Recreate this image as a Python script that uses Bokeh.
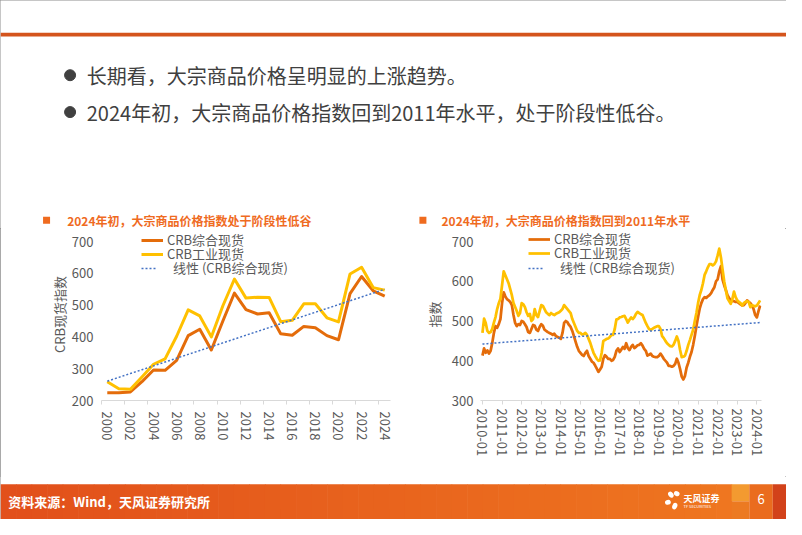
import numpy as np
from bokeh.plotting import figure
from bokeh.layouts import column, row
from bokeh.models import Range1d, FixedTicker, Legend, LegendItem
from bokeh.core.properties import value
from bokeh.embed import file_html
from bokeh.resources import INLINE

FONT = "Noto Sans CJK SC"
ORANGE = "#E46C0A"
YELLOW = "#FFC000"
BLUE = "#4472C4"
TITLE_C = "#EF6B1F"
GREY_T = "#595959"

# ---------------- data ----------------
bullets = ["长期看，大宗商品价格呈明显的上涨趋势。",
           "2024年初，大宗商品价格指数回到2011年水平，处于阶段性低谷。"]
chart_titles = ["2024年初，大宗商品价格指数处于阶段性低谷",
                "2024年初，大宗商品价格指数回到2011年水平"]
footer_text = "资料来源：Wind，天风证券研究所"
series_names = ["CRB综合现货", "CRB工业现货", "线性 (CRB综合现货)"]
y_labels = ["CRB现货指数", "指数"]

years = [2000, 2001, 2002, 2003, 2004, 2005, 2006, 2007, 2008, 2009, 2010, 2011, 2012,
         2013, 2014, 2015, 2016, 2017, 2018, 2019, 2020, 2021, 2022, 2023, 2024]
annual_composite = [224, 224, 227, 259, 296, 295, 326, 404, 424, 359, 450, 538, 486,
                    472, 476, 410, 405, 433, 429, 404, 391, 536, 590, 545, 528]
annual_industrial = [259, 237, 235, 274, 314, 331, 402, 485, 466, 400, 498, 582, 522,
                     525, 524, 448, 452, 504, 504, 460, 447, 598, 619, 555, 547]

monthly_first_year = 2010
monthly_composite = [
    413, 431, 420, 426, 418, 425, 445, 470, 487, 483, 492, 505,   # 2010
    545, 572, 562, 555, 552, 548, 540, 515, 495, 487, 492, 490,   # 2011
    500, 498, 492, 485, 472, 470, 480, 490, 488, 478, 475, 485,   # 2012
    492, 488, 478, 475, 472, 470, 468, 465, 468, 462, 460, 458,   # 2013
    455, 470, 495, 500, 497, 490, 485, 475, 462, 448, 435, 425,   # 2014
    420, 415, 412, 420, 425, 412, 405, 398, 395, 388, 380, 372,   # 2015
    378, 385, 405, 414, 410, 405, 405, 400, 402, 410, 425, 431,   # 2016
    422, 428, 435, 430, 444, 432, 427, 435, 440, 432, 435, 439,   # 2017
    440, 444, 438, 430, 425, 413, 415, 418, 412, 410, 409, 409,   # 2018
    412, 418, 412, 405, 400, 395, 387, 387, 385, 387, 392, 405,   # 2019
    395, 379, 360, 353, 362, 383, 395, 410, 422, 440, 462, 487,   # 2020
    510, 531, 545, 555, 560, 558, 562, 565, 570, 578, 585, 600,   # 2021
    605, 625, 638, 604, 590, 578, 565, 558, 552, 550, 550, 548,   # 2022
    548, 545, 542, 539, 540, 545, 552, 548, 545, 539, 530, 515,   # 2023
    509, 525, 539,                                                # 2024
]
monthly_industrial = [
    470, 506, 495, 475, 470, 472, 480, 496, 510, 530, 545, 556,   # 2010
    590, 625, 615, 605, 595, 580, 565, 545, 535, 525, 513, 520,   # 2011
    545, 542, 535, 522, 513, 518, 500, 505, 530, 515, 510, 525,   # 2012
    540, 538, 530, 522, 518, 515, 520, 517, 515, 518, 520, 522,   # 2013
    526, 530, 540, 535, 530, 525, 520, 505, 495, 485, 475, 470,   # 2014
    470, 466, 467, 470, 465, 455, 445, 432, 420, 412, 405, 400,   # 2015
    401, 420, 450, 452, 455, 456, 460, 465, 465, 480, 504, 505,   # 2016
    509, 510, 512, 513, 505, 496, 503, 509, 505, 510, 518, 523,   # 2017
    520, 517, 515, 505, 495, 487, 480, 478, 480, 483, 485, 487,   # 2018
    487, 480, 462, 457, 450, 444, 440, 437, 436, 440, 450, 461,   # 2019
    450, 427, 409, 410, 413, 425, 440, 452, 465, 478, 500, 520,   # 2020
    545, 565, 578, 595, 616, 625, 635, 643, 643, 640, 643, 650,   # 2021
    665, 682, 660, 630, 600, 578, 557, 550, 543, 555, 574, 560,   # 2022
    552, 548, 545, 539, 545, 548, 550, 548, 535, 540, 538, 537,   # 2023
    539, 545, 552,                                                # 2024
]
month_tick_labels = ["2010-01", "2011-01", "2012-01", "2013-01", "2014-01", "2015-01",
                     "2016-01", "2017-01", "2018-01", "2019-01", "2020-01", "2021-01",
                     "2022-01", "2023-01", "2024-01"]
y_ticks_left = [200, 300, 400, 500, 600, 700]
y_ticks_right = [300, 400, 500, 600, 700]


def deco_fig(h, y_top, y_bottom):
    f = figure(width=786, height=h, x_range=Range1d(0, 802), y_range=Range1d(y_bottom, y_top),
               output_backend="svg", toolbar_location=None, min_border=0,
               x_axis_location=None, y_axis_location=None, outline_line_color=None)
    f.xgrid.visible = False
    f.ygrid.visible = False
    return f


# ---------------- top part (header + bullets + chart titles) ----------------
top = deco_fig(228, 0, 235)
top.quad(left=0, right=802, top=33.2, bottom=37.2, fill_color="#D4541C", line_color=None)
top.scatter(x=[71, 71], y=[77, 115], size=11, color="#404040")
top.text(x=[88, 88], y=[77, 115], text=bullets, text_font=value(FONT), text_font_size="20px",
         text_color="#404040", text_baseline="middle")
top.scatter(x=[47, 431], y=[226.5, 226.5], marker="square", size=7, color=TITLE_C, line_color=None)
top.text(x=[68, 450], y=[226.5, 226.5], text=chart_titles, text_font=value(FONT),
         text_font_size="12px", text_font_style="bold", text_color=TITLE_C,
         text_baseline="middle")


def style_axes(p):
    p.xgrid.visible = False
    p.ygrid.visible = False
    for ax in (p.xaxis[0], p.yaxis[0]):
        ax.major_label_text_font = FONT
        ax.major_label_text_font_size = "13px"
        ax.major_label_text_color = GREY_T
        ax.axis_label_text_font = FONT
        ax.axis_label_text_font_size = "13px"
        ax.axis_label_text_color = GREY_T
        ax.axis_label_text_font_style = "normal"
    ya = p.yaxis[0]
    ya.axis_line_color = None
    ya.major_tick_line_color = None
    ya.minor_tick_line_color = None
    ya.major_tick_out = 0
    ya.major_tick_in = 0
    xa = p.xaxis[0]
    xa.axis_line_color = "#D9D9D9"
    xa.major_label_orientation = "vertical"


def make_legend(p, renderers, x0, bottoms):
    # one legend per entry so that rows can be packed as tightly as in the reference
    for i, (n, r, yb) in enumerate(zip(series_names, renderers, bottoms)):
        dotted = i == 2
        lg = Legend(items=[LegendItem(label=n, renderers=[r])], location=(x0, yb),
                    glyph_width=16 if dotted else 22, glyph_height=14, label_height=14,
                    spacing=0, padding=0, margin=0, label_standoff=16 if dotted else 4,
                    border_line_color=None, background_fill_alpha=0,
                    label_text_font=FONT, label_text_font_size="13px",
                    label_text_color=GREY_T)
        p.add_layout(lg)


# both chart frames span the same canvas rows; the value ranges are padded at the top
# so that the 700 tick lands where the reference puts it (room for the legends)
FRAME_TOP_PAD = 13.0      # px between frame top and the 700 tick
FRAME_BOTTOM_BORDER = 76
VALUE_SPAN_PX = 248 - FRAME_BOTTOM_BORDER - FRAME_TOP_PAD

# ---------------- left chart (annual) ----------------
xl = np.arange(len(years))
kl = np.polyfit(xl, annual_composite, 1)
trend_l = np.polyval(kl, xl)
upl = (700 - 200) / VALUE_SPAN_PX
pl = figure(width=404, height=248, x_range=Range1d(-0.5, len(years) - 0.5),
            y_range=Range1d(200, 700 + FRAME_TOP_PAD * upl), output_backend="svg",
            toolbar_location=None,
            min_border_left=101, min_border_right=14, min_border_top=0,
            min_border_bottom=FRAME_BOTTOM_BORDER, outline_line_color=None)
style_axes(pl)
pl.yaxis.ticker = FixedTicker(ticks=y_ticks_left)
pl.yaxis.major_label_standoff = 8
pl.yaxis.axis_label = y_labels[0]
pl.yaxis.axis_label_standoff = 0
even = list(range(0, len(years), 2))
pl.xaxis.ticker = FixedTicker(ticks=even, minor_ticks=[i - 0.5 for i in range(0, len(years) + 1, 2)])
pl.xaxis.major_label_overrides = {i: str(years[i]) for i in even}
pl.xaxis.major_tick_line_color = None
pl.xaxis.major_tick_out = 0
pl.xaxis.major_tick_in = 0
pl.xaxis.minor_tick_line_color = "#D9D9D9"
pl.xaxis.minor_tick_out = 4
pl.xaxis.minor_tick_in = 0
pl.xaxis.major_label_standoff = 7

rl1 = pl.line(xl, annual_composite, line_color=ORANGE, line_width=3, line_join="round")
rl2 = pl.line(xl, annual_industrial, line_color=YELLOW, line_width=3, line_join="round")
rl3 = pl.line(xl, trend_l, line_color=BLUE, line_width=1.5, line_dash="2 2")
make_legend(pl, [rl1, rl2, rl3], 40, [151, 137, 123])

# ---------------- right chart (monthly) ----------------
xr = monthly_first_year + np.arange(len(monthly_composite)) / 12.0
kr = np.polyfit(xr, monthly_composite, 1)
trend_r = np.polyval(kr, xr)
tick_years = [int(s[:4]) for s in month_tick_labels]
upr = (700 - 300) / VALUE_SPAN_PX
pr = figure(width=382, height=248, x_range=Range1d(monthly_first_year - 0.1, xr[-1] + 0.07),
            y_range=Range1d(300, 700 + FRAME_TOP_PAD * upr), output_backend="svg",
            toolbar_location=None,
            min_border_left=76, min_border_right=25, min_border_top=0,
            min_border_bottom=FRAME_BOTTOM_BORDER, outline_line_color=None)
style_axes(pr)
pr.yaxis.ticker = FixedTicker(ticks=y_ticks_right)
pr.yaxis.major_label_standoff = 7
pr.yaxis.axis_label = y_labels[1]
pr.yaxis.axis_label_standoff = 5
pr.xaxis.ticker = FixedTicker(ticks=tick_years)
pr.xaxis.major_label_overrides = {y: s for y, s in zip(tick_years, month_tick_labels)}
pr.xaxis.major_tick_line_color = "#D9D9D9"
pr.xaxis.major_tick_out = 4
pr.xaxis.major_tick_in = 0
pr.xaxis.minor_tick_line_color = None
pr.xaxis.major_label_standoff = 4

rr1 = pr.line(xr, monthly_composite, line_color=ORANGE, line_width=2.75, line_join="round")
rr2 = pr.line(xr, monthly_industrial, line_color=YELLOW, line_width=2.75, line_join="round")
rr3 = pr.line(xr, trend_r, line_color=BLUE, line_width=1.5, line_dash="2 2")
make_legend(pr, [rr1, rr2, rr3], 48, [152, 138, 123])

# ---------------- footer ----------------
bot = deco_fig(43, 490, 535)
edges = np.linspace(0, 746, 48)
c0 = np.array([226, 80, 27])
c1 = np.array([239, 118, 32])
cols = []
for i in range(len(edges) - 1):
    t = i / (len(edges) - 2)
    c = (c0 + (c1 - c0) * t).astype(int)
    cols.append("#%02x%02x%02x" % tuple(c))
bot.quad(left=edges[:-1], right=edges[1:] + 0.6, top=498, bottom=535, fill_color=cols, line_color=None)
bot.quad(left=[746, 746, 764, 788], right=[764, 764, 788, 802], top=[498, 516, 498, 498],
         bottom=[516, 535, 535, 535],
         fill_color=["#F39A30", "#EC7A22", "#EA6C1E", "#D2421A"], line_color=None)
bot.text(x=[8], y=[516], text=[footer_text], text_font=value(FONT), text_font_size="13px",
         text_font_style="bold", text_color="white", text_baseline="middle")
# logo
bot.ellipse(x=[684, 690, 681, 688], y=[509, 508, 517, 521], width=[5, 6, 6, 5], height=[7, 5, 5, 7],
            angle=[0.6, -0.5, 0.3, -0.4], fill_color="white", line_color=None)
bot.text(x=[697], y=[513], text=["天风证券"], text_font=value(FONT), text_font_size="9px",
         text_font_style="bold", text_color="white", text_baseline="middle")
bot.text(x=[697], y=[521], text=["TF SECURITIES"], text_font=value(FONT), text_font_size="4px",
         text_color="white", text_baseline="middle")
bot.text(x=[776], y=[514], text=["6"], text_font=value(FONT), text_font_size="13px",
         text_color="white", text_baseline="middle", text_align="center")

layout = column(top, row(pl, pr), bot,
                styles={"outline": "1px solid #8c8c8c", "outline-offset": "-1px"})

open("out.html", "w").write(file_html(layout, INLINE))
